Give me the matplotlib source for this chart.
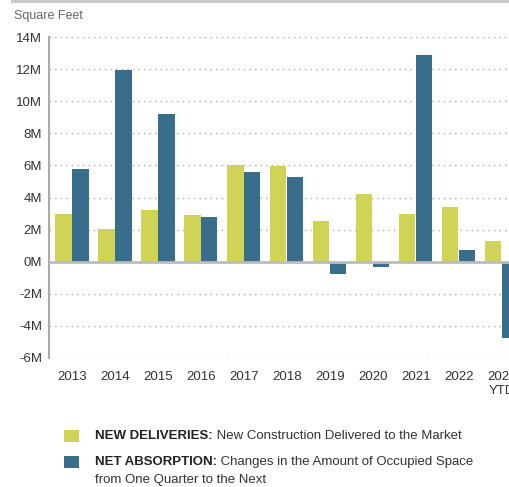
import numpy as np
import matplotlib.pyplot as plt
from matplotlib.ticker import FuncFormatter

years = ['2013', '2014', '2015', '2016', '2017', '2018', '2019', '2020', '2021', '2022', '2023\nYTD']
new_deliveries = [2.95, 2.05, 3.25, 2.9, 6.0, 5.95, 2.55, 4.2, 2.95, 3.4, 1.3]    # M sq ft
net_absorption = [5.8, 11.95, 9.2, 2.8, 5.6, 5.25, -0.75, -0.3, 12.9, 0.7, -4.75]  # M sq ft

yellow = '#CFD456'
blue = '#386D8C'
font = ['Liberation Sans Narrow', 'Liberation Sans', 'DejaVu Sans']
plt.rcParams['font.family'] = font

fig = plt.figure(figsize=(5.10, 4.87), dpi=100)
ax = fig.add_axes([49 / 510, (487 - 358) / 487, 1 - 49 / 510, (358 - 37) / 487])

x = np.arange(len(years))
w = 0.375
ax.bar(x - w / 2 - 0.01, new_deliveries, width=w, color=yellow, zorder=3)
ax.bar(x + w / 2 + 0.01, net_absorption, width=w, color=blue, zorder=3)

ax.set_ylim(-6, 14)
ax.set_xlim(-0.535, 10.19)
ax.set_yticks(range(-6, 15, 2))
ax.yaxis.set_major_formatter(FuncFormatter(lambda v, p: '%dM' % v))
ax.set_xticks(x)
ax.set_xticklabels(years)
ax.tick_params(length=0, labelsize=9.5, colors='#333333')
ax.tick_params(axis='y', pad=5)
ax.tick_params(axis='x', pad=9)
for t in ax.get_xticklabels():
    t.set_linespacing(1.3)

for v in range(-6, 15, 2):
    if v != 0:
        ax.axhline(v, color='#aaaaaa', lw=1, ls=(0, (1, 3)), zorder=1)
ax.axhline(0, color='#bcbcc0', lw=2, zorder=4)

for s in ['top', 'right', 'bottom']:
    ax.spines[s].set_visible(False)
ax.spines['left'].set_color('#aaaaaa')
ax.spines['left'].set_linewidth(1.5)

fig.text(14 / 510, 1 - 16 / 487, 'Square Feet', fontsize=9, color='#666666', va='center')

# top rule
fig.add_artist(plt.Rectangle((11 / 510, 1 - 3 / 487), 1, 3 / 487, transform=fig.transFigure,
                             color='#c8c8c8', lw=0))

# legend
renderer = fig.canvas.get_renderer()
entries = [(yellow, 'NEW DELIVERIES:', ' New Construction Delivered to the Market', 436),
           (blue, 'NET ABSORPTION:', ' Changes in the Amount of Occupied Space', 462)]
for col, bold, rest, yc in entries:
    fig.add_artist(plt.Rectangle((64 / 510, 1 - (yc + 6) / 487), 15 / 510, 12 / 487,
                                 transform=fig.transFigure, color=col, lw=0))
    t = fig.text(95 / 510, 1 - yc / 487, bold, fontsize=9.5, fontweight='bold',
                 color='#222222', va='center')
    bb = t.get_window_extent(renderer)
    fig.text(bb.x1 / fig.dpi / 5.10, 1 - yc / 487, rest, fontsize=9.5, color='#333333', va='center')
fig.text(95 / 510, 1 - 480 / 487, 'from One Quarter to the Next', fontsize=9.5, color='#333333', va='center')

fig.savefig('out.png', dpi=100)
